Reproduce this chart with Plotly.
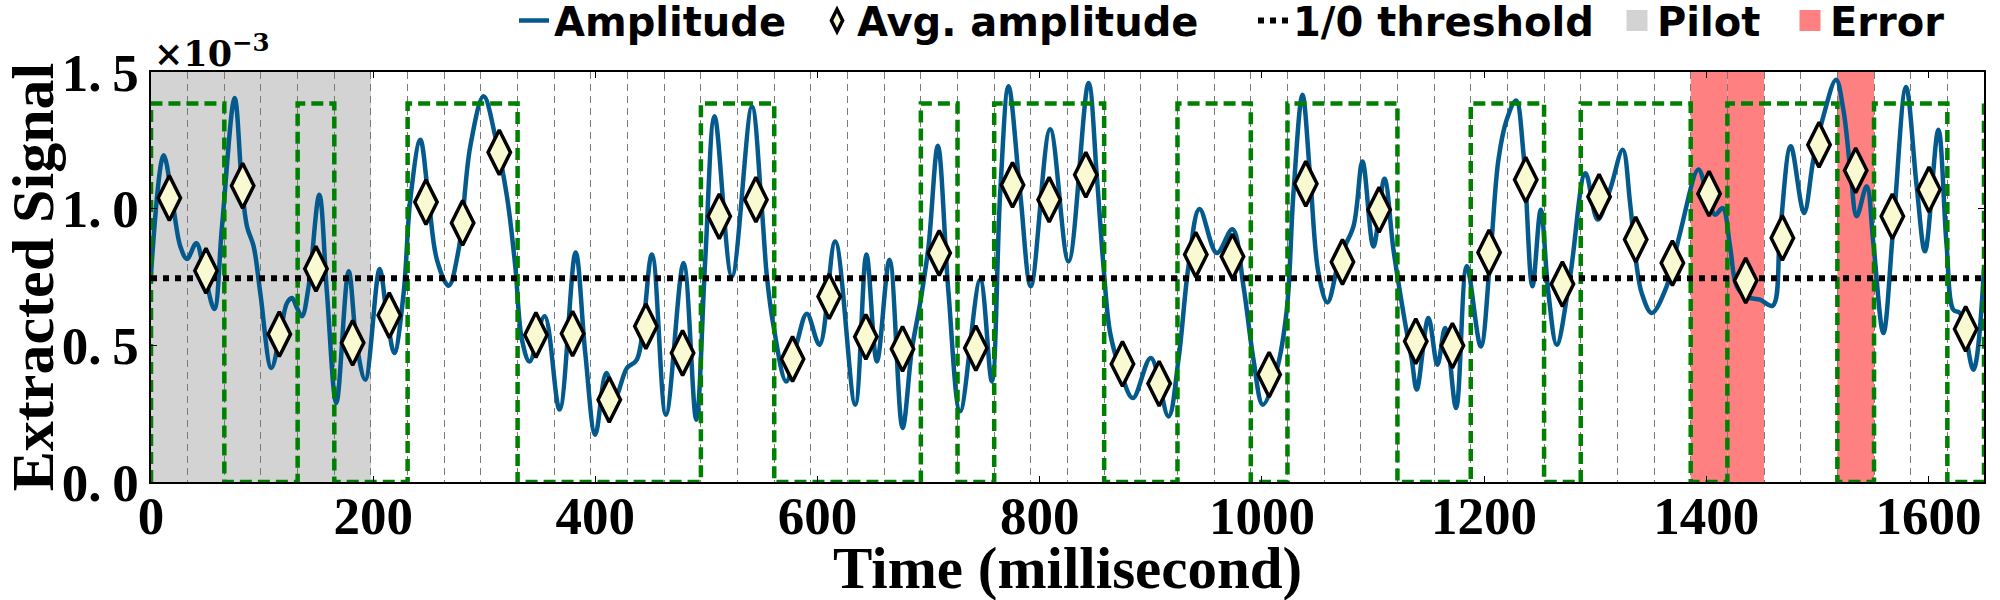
import plotly.graph_objects as go

# ---------------- data ----------------
BIT_MS = 33                      # bit duration (ms)
PILOT_BITS = 6                   # first 6 bits are pilot
ERROR_BITS = [42, 43, 46]        # wrongly decoded bits
THRESHOLD = 0.745                # x1e-3
GT_LEVEL = 1.385                 # height of ground-truth square wave (x1e-3)

# ground-truth bits (last entry is the start of the next bit at the right edge)
gt_bits = [1, 1, 0, 0, 1, 0, 0, 1, 1, 1,
           0, 0, 0, 0, 0, 1, 1, 0, 0, 0,
           0, 1, 0, 1, 1, 1, 0, 0, 1, 1,
           0, 1, 1, 1, 0, 0, 1, 1, 0, 1,
           1, 1, 0, 1, 1, 1, 0, 1, 1, 0,
           1]

# average amplitude per bit (x1e-3)
avg_amp = [1.039, 0.773, 1.084, 0.541, 0.780, 0.509, 0.610, 1.024, 0.948, 1.206,
           0.538, 0.543, 0.301, 0.570, 0.472, 0.972, 1.033, 0.450, 0.679, 0.531,
           0.487, 0.838, 0.490, 1.087, 1.033, 1.124, 0.432, 0.360, 0.832, 0.825,
           0.393, 1.091, 0.805, 0.996, 0.515, 0.499, 0.840, 1.106, 0.724, 1.044,
           0.887, 0.801, 1.055, 0.737, 0.893, 1.234, 1.140, 0.972, 1.070, 0.560]

# amplitude trace (time in ms, value x1e-3)
t_ms = [0, 11.4, 20.4, 26.4, 32.4, 40.8, 47.4, 57.0, 63.9, 75.3,
        81.9, 86.4, 92.4, 98.4, 108.3, 116.4, 122.4, 126.9, 131.4, 135.9,
        141.9, 151.5, 158.4, 166.8, 177.9, 185.4, 192.9, 205.8, 212.4, 219.0,
        227.4, 233.4, 242.4, 249.9, 257.4, 267.9, 276.9, 287.4, 299.4, 309.9,
        320.4, 327.9, 333.9, 340.8, 354.3, 367.8, 382.2, 390.9, 399.9, 409.8,
        417.9, 428.4, 437.4, 450.9, 463.5, 479.4, 490.8, 498.9, 507.3, 522.9,
        540.9, 549.9, 554.4, 560.4, 571.8, 581.4, 590.4, 601.8, 615.9, 633.9,
        644.0, 653.4, 664.8, 676.5, 684.9, 692.4, 699.9, 708.3, 717.9, 728.4,
        746.4, 756.9, 764.4, 771.9, 782.4, 792.0, 809.4, 825.9, 843.9, 851.4,
        857.4, 863.4, 872.4, 883.8, 900.0, 915.9, 924.9, 933.9, 943.8, 959.4,
        973.5, 983.4, 992.4, 1000.8, 1013.4, 1022.4, 1028.4, 1036.5, 1043.4, 1050.9,
        1059.0, 1070.4, 1082.4, 1090.5, 1100.4, 1110.3, 1118.4, 1127.4, 1134.9, 1139.4,
        1149.9, 1158.0, 1164.9, 1174.8, 1184.4, 1197.0, 1205.4, 1212.9, 1220.4, 1228.8,
        1235.4, 1243.5, 1251.0, 1257.9, 1265.4, 1277.4, 1291.2, 1302.2, 1313.4, 1324.8,
        1331.4, 1337.4, 1341.9, 1350.9, 1364.4, 1376.4, 1392.9, 1400.4, 1407.9, 1414.8,
        1421.4, 1427.4, 1436.4, 1448.4, 1459.8, 1466.4, 1476.0, 1488.0, 1496.4, 1505.4,
        1516.8, 1523.4, 1530.0, 1535.4, 1544.4, 1550.4, 1559.4, 1568.4, 1579.8, 1589.4,
        1596.9, 1608.9, 1616.4, 1622.4, 1628.4, 1640.4, 1650.0]
amp = [0.760, 1.195, 0.996, 0.862, 0.816, 0.874, 0.777, 0.633, 0.935, 1.405,
       1.082, 0.935, 0.862, 0.691, 0.417, 0.545, 0.655, 0.673, 0.637, 0.606,
       0.716, 1.051, 0.691, 0.289, 0.771, 0.496, 0.374, 0.779, 0.606, 0.472,
       0.691, 1.033, 1.252, 1.033, 0.813, 0.718, 0.850, 1.228, 1.411, 1.265,
       1.045, 0.789, 0.521, 0.441, 0.606, 0.265, 0.840, 0.472, 0.173, 0.399,
       0.313, 0.417, 0.448, 0.832, 0.246, 0.801, 0.228, 0.813, 1.338, 0.752,
       1.374, 0.996, 0.752, 0.570, 0.368, 0.509, 0.616, 0.502, 0.880, 0.283,
       0.832, 0.441, 0.813, 0.198, 0.484, 0.655, 0.862, 1.230, 0.691, 0.259,
       0.740, 0.368, 1.057, 1.448, 1.057, 0.716, 1.291, 0.807, 1.460, 1.118,
       0.789, 0.545, 0.411, 0.307, 0.454, 0.240, 0.448, 0.789, 0.999, 0.838,
       0.925, 0.716, 0.448, 0.283, 0.411, 0.630, 1.057, 1.417, 1.118, 0.765,
       0.657, 0.826, 0.935, 1.173, 0.862, 1.109, 0.850, 0.618, 0.448, 0.338,
       0.600, 0.429, 0.563, 0.271, 0.789, 0.496, 0.813, 1.179, 1.326, 1.396,
       1.204, 0.716, 0.996, 0.691, 0.502, 0.752, 1.130, 0.960, 1.070, 1.216,
       1.021, 0.789, 0.691, 0.618, 0.716, 0.911, 1.143, 1.057, 0.978, 1.002,
       0.862, 0.716, 0.677, 0.667, 0.645, 0.911, 1.228, 0.984, 1.179, 1.338,
       1.472, 1.362, 1.130, 0.972, 1.082, 0.874, 0.545, 0.935, 1.445, 1.082,
       0.844, 1.289, 0.862, 0.630, 0.618, 0.411, 0.780]

x_ticks = [0, 200, 400, 600, 800, 1000, 1200, 1400, 1600]
y_ticks = [0.0, 0.5, 1.0, 1.5]
y_tick_text = ["0.\u20090", "0.\u20095", "1.\u20090", "1.\u20095"]

# ---------------- derived ----------------
n_bits = len(avg_amp)
t_end = n_bits * BIT_MS
bit_centers = [i * BIT_MS + BIT_MS / 2 for i in range(n_bits)]
step_x = [0] + [i * BIT_MS for i in range(len(gt_bits))]
step_y = [0] + [b * GT_LEVEL for b in gt_bits]

BLUE = "#045a8d"
GREEN = "#008000"
PILOT_C = "#d3d3d3"
ERR_C = "#ff8080"
SERIF = "Liberation Serif"
SANS = "DejaVu Sans"

W, H = 2000, 600
ML, MR, MT, MB = 151, 16, 72, 118
PW, PH = W - ML - MR, H - MT - MB

fig = go.Figure()

fig.add_trace(go.Scatter(
    x=t_ms, y=amp, mode="lines", name="Amplitude",
    line=dict(color=BLUE, width=4.5, shape="spline", smoothing=1.0),
    legend="legend"))

fig.add_trace(go.Scatter(
    x=step_x, y=step_y, mode="lines", showlegend=False,
    line=dict(color=GREEN, width=4.5, dash="12px,6px", shape="hv")))

fig.add_trace(go.Scatter(
    x=[0, t_end], y=[THRESHOLD, THRESHOLD], mode="lines", name="1/0 threshold",
    line=dict(color="black", width=6, dash="dot"), legend="legend3"))

fig.add_trace(go.Scatter(
    x=bit_centers, y=avg_amp, mode="markers", name="Avg. amplitude",
    marker=dict(symbol="diamond-tall", size=32, color="#fafad2",
                line=dict(color="black", width=3.5)),
    legend="legend2"))

fig.add_trace(go.Scatter(
    x=[None], y=[None], mode="markers", name="Pilot",
    marker=dict(symbol="square", size=16, color=PILOT_C,
                line=dict(color=PILOT_C, width=8)), legend="legend4"))
fig.add_trace(go.Scatter(
    x=[None], y=[None], mode="markers", name="Error",
    marker=dict(symbol="square", size=16, color=ERR_C,
                line=dict(color=ERR_C, width=8)), legend="legend5"))

shapes = [dict(type="rect", xref="x", yref="y domain", x0=0, x1=PILOT_BITS * BIT_MS,
               y0=0, y1=1, fillcolor=PILOT_C, line=dict(width=0), layer="below")]
for b in ERROR_BITS:
    shapes.append(dict(type="rect", xref="x", yref="y domain", x0=b * BIT_MS,
                       x1=(b + 1) * BIT_MS, y0=0, y1=1, fillcolor=ERR_C,
                       line=dict(width=0), layer="below"))

legend_font = dict(family=SANS, size=40, color="black", weight="bold")
LEG_TOP = 1 + (MT + 12) / PH
def leg(px):
    return dict(orientation="h", x=(px - ML) / PW, xref="paper", xanchor="left",
                y=LEG_TOP, yref="paper", yanchor="top", font=legend_font,
                bgcolor="rgba(0,0,0,0)", borderwidth=0, itemwidth=30)

fig.update_layout(
    width=W, height=H,
    margin=dict(l=ML, r=MR, t=MT, b=MB, autoexpand=False),
    plot_bgcolor="white", paper_bgcolor="white",
    shapes=shapes,
    legend=leg(514),
    legend2=leg(817),
    legend3=leg(1253),
    legend4=leg(1617),
    legend5=leg(1790),
    annotations=[
        dict(text="×10<sup>−3</sup>", xref="paper", yref="paper",
             x=0, y=1, xanchor="left", yanchor="bottom", xshift=1, yshift=-4,
             showarrow=False,
             font=dict(family="DejaVu Serif", size=35, color="black", weight="bold")),
        dict(text="Time (millisecond)", xref="paper", yref="paper",
             x=0.5, y=-MB / PH, xanchor="center", yanchor="bottom", yshift=-3,
             showarrow=False,
             font=dict(family=SERIF, size=59, color="black", weight="bold")),
    ],
)

fig.update_xaxes(
    range=[0, t_end], tickvals=x_ticks, ticktext=[str(v) for v in x_ticks],
    showgrid=False, zeroline=False,
    ticks="inside", ticklen=6, tickwidth=1.2, tickcolor="black",
    showline=True, linecolor="black", linewidth=1.5, mirror="ticks",
    ticklabelstandoff=-13,
    tickfont=dict(family=SERIF, size=53, color="black", weight="bold"),
    minor=dict(tick0=0, dtick=BIT_MS, showgrid=True, gridcolor="#7a7a7a",
               gridwidth=1.2, griddash="7px,5px", ticks=""),
)
fig.update_yaxes(
    range=[0, 1.5], tickvals=y_ticks, ticktext=y_tick_text,
    showgrid=False, zeroline=False,
    ticks="inside", ticklen=6, tickwidth=1.2, tickcolor="black",
    showline=True, linecolor="black", linewidth=1.5, mirror="ticks",
    tickfont=dict(family=SERIF, size=53, color="black", weight="bold"),
    title=dict(text="Extracted Signal", standoff=28,
               font=dict(family=SERIF, size=60, color="black", weight="bold")),
)

fig.write_html("out.html", config={"displayModeBar": False},
               post_script="document.body.style.margin='0px';")
